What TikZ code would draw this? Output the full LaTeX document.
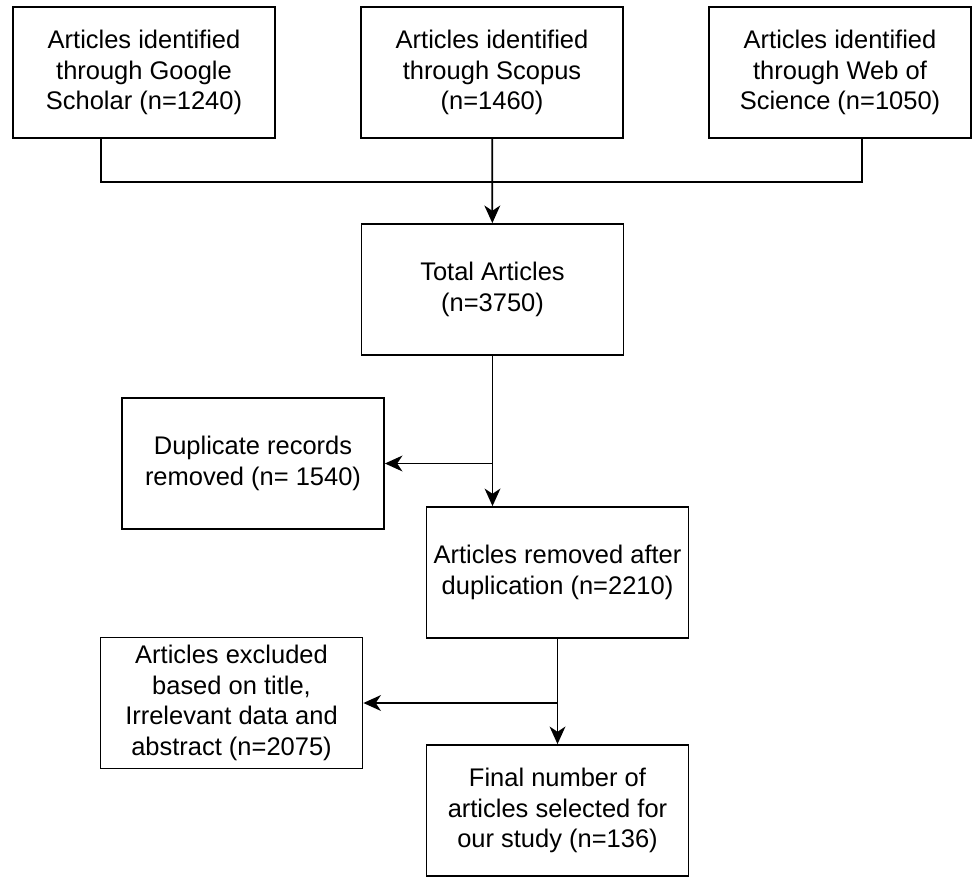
\documentclass[tikz,border=0pt]{standalone}
\usepackage{fontspec}
\setmainfont{Liberation Sans}
\usepackage{tikz}
\usetikzlibrary{arrows.meta}
\tikzset{my box/.style = {draw, line width=1pt, minimum width=5.24cm,
  minimum height=2.62cm, inner sep=0pt, align=center,
  font=\fontsize{14.5}{17.5}\selectfont}}
\tikzset{my arrow/.style = {line width=1pt,
  -{Stealth[length=10pt,width=9pt,inset=3pt]}}}

\begin{document}
\begin{tikzpicture}[line width=1pt]
  \useasboundingbox (0,0) rectangle (19.44,17.52);
  \node[my box] (G) at (2.88,16.07) {Articles identified\\through Google\\Scholar (n=1240)};
  \node[my box] (S) at (9.84,16.07) {Articles identified\\through Scopus\\(n=1460)};
  \node[my box] (W) at (16.80,16.07) {Articles identified\\through Web of\\Science (n=1050)};
  \node[my box] (T) at (9.85,11.73) {Total Articles\\(n=3750)};
  \node[my box] (D) at (5.06,8.25) {Duplicate records\\removed (n= 1540)};
  \node[my box] (R) at (11.15,6.07) {Articles removed after\\duplication (n=2210)};
  \node[my box] (E) at (4.63,3.46) {Articles excluded\\based on title,\\Irrelevant data and\\abstract (n=2075)};
  \node[my box] (F) at (11.15,1.31) {Final number of\\articles selected for\\our study (n=136)};
  \coordinate (merge) at (9.84,13.88);
  \coordinate (split1) at (T.south |- D.east);
  \coordinate (split2) at (R.south |- E.east);
  \draw ([xshift=-0.86cm]G.south) |- (merge) -| ([xshift=0.44cm]W.south);
  \draw[my arrow] (S) -- (T);
  \draw (T) -- (split1);
  \draw[my arrow] (split1) -- (D);
  \draw[my arrow] (split1) -- (T.south |- R.north);
  \draw[my arrow] (R) -- (F);
  \draw[my arrow] (split2) -- (E);
\end{tikzpicture}
\end{document}
